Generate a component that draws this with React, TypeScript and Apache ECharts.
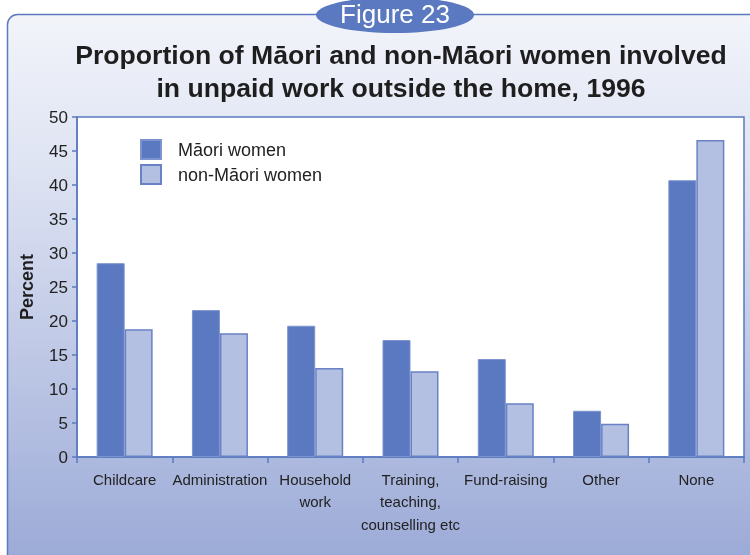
import React, { useEffect, useRef } from "react";
import * as echarts from "echarts";

const categories = [
  "Childcare",
  "Administration",
  "Household\nwork",
  "Training,\nteaching,\ncounselling etc",
  "Fund-raising",
  "Other",
  "None",
];
const maoriWomen = [28.5, 21.6, 19.3, 17.2, 14.4, 6.8, 40.7];
const nonMaoriWomen = [18.8, 18.2, 13.1, 12.6, 7.9, 4.9, 46.6];
const seriesNames = ["Māori women", "non-Māori women"];
const titleLines = [
  "Proportion of Māori and non-Māori women involved",
  "in unpaid work outside the home, 1996",
];

const BLUE = "#5b79c0";
const LIGHT = "#b4c0e1";
const FONT = "Liberation Sans, Arial, Helvetica, sans-serif";

export default function App() {
  const ref = useRef<HTMLDivElement>(null);
  useEffect(() => {
    if (!ref.current) return;
    const chart = echarts.init(ref.current, null, { renderer: "svg" });
    chart.setOption({
      animation: false,
      textStyle: { fontFamily: FONT },
      graphic: [
        {
          type: "rect",
          z: -10,
          shape: { x: 7.5, y: 14.5, width: 800, height: 600, r: [10, 0, 0, 0] },
          style: {
            fill: new echarts.graphic.LinearGradient(0, 0, 0, 1, [
              { offset: 0, color: "#f2f4fa" },
              { offset: 0.25, color: "#dfe4f3" },
              { offset: 1, color: "#92a2d3" },
            ]),
            stroke: BLUE,
            lineWidth: 1.5,
          },
        },
        {
          type: "ellipse",
          z: 10,
          shape: { cx: 395, cy: 15, rx: 79, ry: 18 },
          style: { fill: BLUE },
        },
        {
          type: "text",
          z: 11,
          x: 395,
          y: 14,
          style: {
            text: "Figure 23",
            fill: "#ffffff",
            fontSize: 26,
            fontFamily: FONT,
            align: "center",
            verticalAlign: "middle",
          },
        },
        {
          type: "text",
          x: 401,
          y: 55,
          style: {
            text: titleLines[0],
            fill: "#1e1e1e",
            fontSize: 26.6,
            fontWeight: "bold",
            fontFamily: FONT,
            align: "center",
            verticalAlign: "middle",
          },
        },
        {
          type: "text",
          x: 401,
          y: 88,
          style: {
            text: titleLines[1],
            fill: "#1e1e1e",
            fontSize: 26.6,
            fontWeight: "bold",
            fontFamily: FONT,
            align: "center",
            verticalAlign: "middle",
          },
        },
      ],
      legend: {
        left: 140,
        top: 139,
        padding: 0,
        orient: "vertical",
        itemWidth: 20,
        itemHeight: 19,
        itemGap: 4,
        icon: "rect",
        textStyle: {
          fontSize: 18,
          lineHeight: 20,
          color: "#222",
          fontFamily: FONT,
          padding: [0, 0, 0, 12],
        },
        data: seriesNames,
      },
      grid: {
        left: 77,
        top: 117,
        width: 667,
        height: 340,
        show: true,
        backgroundColor: "#ffffff",
        borderColor: BLUE,
        borderWidth: 1.5,
      },
      xAxis: {
        type: "category",
        data: categories,
        axisLine: { lineStyle: { color: BLUE, width: 1.5 } },
        axisTick: { show: true, length: 6, lineStyle: { color: BLUE, width: 1.5 } },
        axisLabel: {
          color: "#222",
          fontSize: 15,
          margin: 11,
          lineHeight: 22.5,
          fontFamily: FONT,
          interval: 0,
        },
      },
      yAxis: {
        type: "value",
        min: 0,
        max: 50,
        interval: 5,
        name: "Percent",
        nameLocation: "middle",
        nameGap: 41,
        nameTextStyle: { fontSize: 18, fontWeight: "bold", color: "#1e1e1e", fontFamily: FONT },
        axisLine: { show: true, lineStyle: { color: BLUE, width: 1.5 } },
        axisTick: { show: true, length: 5, lineStyle: { color: BLUE, width: 1.5 } },
        splitLine: { show: false },
        axisLabel: { color: "#222", fontSize: 17, margin: 9, fontFamily: FONT },
      },
      series: [
        {
          name: seriesNames[0],
          type: "bar",
          data: maoriWomen,
          barWidth: 28,
          barGap: "0%",
          itemStyle: { color: BLUE, borderColor: "#7d93cf", borderWidth: 1 },
        },
        {
          name: seriesNames[1],
          type: "bar",
          data: nonMaoriWomen,
          barWidth: 28,
          barGap: "0%",
          itemStyle: { color: LIGHT, borderColor: "#6981c5", borderWidth: 1.5 },
        },
      ],
    });
    return () => chart.dispose();
  }, []);
  return (
    <div
      ref={ref}
      style={{ position: "fixed", left: 0, top: 0, width: 750, height: 555 }}
    />
  );
}
